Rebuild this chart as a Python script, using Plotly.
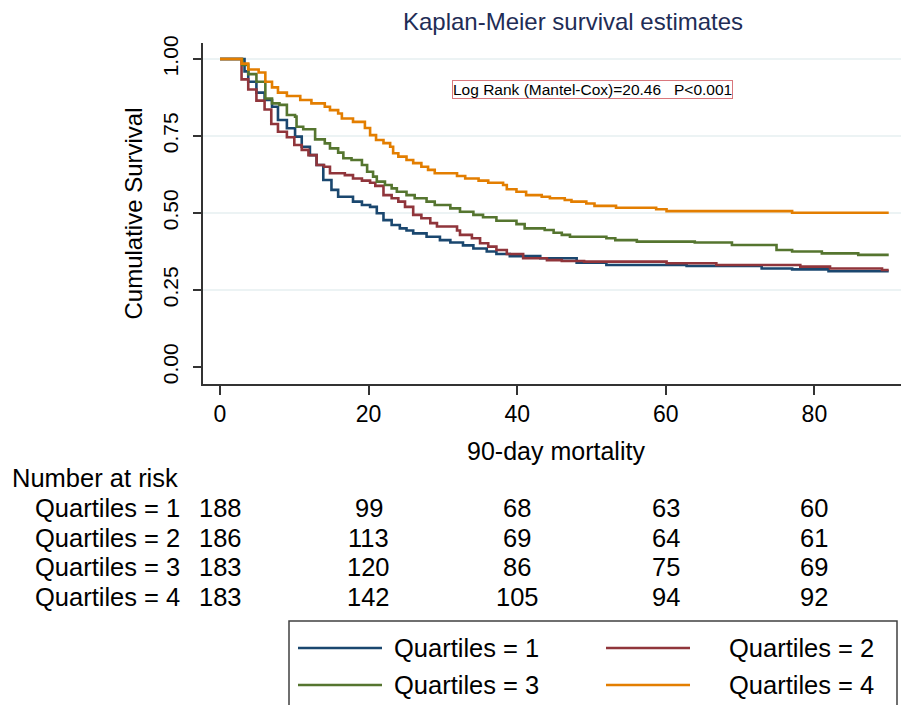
import plotly.graph_objects as go

# ---------------- data ----------------
q1_t = [0, 3.3, 3.8, 4.9, 6.0, 7.0, 7.8, 9.0, 10.1, 11.0, 12.1, 13.0, 13.9, 15.0, 15.9, 17.9, 19.1, 20.2,
        21.1, 22.0, 23.1, 24.2, 25.1, 26.0, 27.8, 29.6, 31.0, 32.7, 34.1, 35.9, 37.2, 39.0, 43.1, 48.0,
        52.0, 62.8, 72.9, 77.0, 81.9, 90]
q1_s = [1.0, 0.960, 0.926, 0.891, 0.867, 0.845, 0.802, 0.775, 0.748, 0.715, 0.688, 0.656, 0.607, 0.575,
        0.553, 0.537, 0.526, 0.520, 0.499, 0.477, 0.461, 0.450, 0.443, 0.434, 0.423, 0.412, 0.404, 0.395,
        0.385, 0.375, 0.367, 0.360, 0.353, 0.339, 0.331, 0.328, 0.320, 0.317, 0.311, 0.311]

q2_t = [0, 2.9, 3.8, 4.9, 6.0, 6.9, 7.8, 9.0, 10.0, 11.0, 11.9, 13.0, 14.0, 14.8, 16.8, 17.9, 19.1, 20.2,
        20.9, 22.0, 23.1, 24.0, 24.9, 26.0, 27.1, 28.3, 29.2, 31.9, 32.3, 33.9, 35.0, 36.1, 37.2, 38.6,
        40.8, 44.0, 46.0, 49.0, 60.1, 66.8, 78.1, 82.1, 89.1, 90]
q2_s = [1.0, 0.934, 0.901, 0.865, 0.836, 0.789, 0.764, 0.746, 0.721, 0.705, 0.688, 0.656, 0.650, 0.629,
        0.623, 0.612, 0.605, 0.598, 0.588, 0.558, 0.548, 0.537, 0.520, 0.494, 0.483, 0.467, 0.456, 0.443,
        0.429, 0.418, 0.402, 0.391, 0.380, 0.367, 0.353, 0.347, 0.344, 0.342, 0.337, 0.331, 0.326, 0.320,
        0.315, 0.315]

q3_t = [0, 3.0, 3.8, 4.9, 6.1, 7.0, 8.0, 9.0, 10.1, 10.3, 11.2, 12.8, 14.1, 14.8, 15.9, 16.6, 17.7, 19.1,
        19.8, 20.6, 21.1, 22.2, 23.1, 23.8, 25.1, 26.2, 27.8, 28.9, 31.0, 32.3, 34.1, 35.4, 37.2, 39.9,
        41.0, 43.7, 44.9, 46.0, 47.1, 52.0, 53.2, 56.1, 63.9, 68.9, 74.9, 77.0, 81.0, 85.9, 90]
q3_s = [1.0, 0.981, 0.951, 0.926, 0.872, 0.856, 0.851, 0.818, 0.813, 0.780, 0.772, 0.739, 0.726, 0.710,
        0.696, 0.678, 0.672, 0.656, 0.634, 0.618, 0.602, 0.591, 0.580, 0.569, 0.558, 0.548, 0.537, 0.526,
        0.515, 0.504, 0.494, 0.486, 0.475, 0.464, 0.450, 0.445, 0.436, 0.429, 0.423, 0.418, 0.412, 0.407,
        0.404, 0.396, 0.380, 0.375, 0.369, 0.364, 0.364]

q4_t = [0, 2.9, 3.8, 5.2, 6.1, 7.0, 7.8, 9.0, 10.8, 12.3, 14.1, 14.8, 15.9, 16.4, 17.9, 19.5, 20.2, 21.0,
        22.0, 22.9, 23.3, 24.0, 25.1, 26.0, 27.1, 28.0, 28.9, 31.9, 33.0, 34.8, 36.1, 38.1, 38.6, 39.9,
        41.2, 43.3, 44.4, 46.4, 47.3, 49.3, 50.4, 53.3, 58.7, 60.1, 77.0, 90]
q4_s = [1.0, 0.985, 0.966, 0.956, 0.926, 0.908, 0.891, 0.880, 0.867, 0.856, 0.845, 0.834, 0.823, 0.807,
        0.796, 0.776, 0.753, 0.737, 0.727, 0.715, 0.694, 0.683, 0.672, 0.662, 0.650, 0.640, 0.629, 0.620,
        0.612, 0.605, 0.598, 0.591, 0.577, 0.569, 0.558, 0.553, 0.548, 0.542, 0.537, 0.531, 0.523, 0.517,
        0.512, 0.506, 0.501, 0.501]

series_names = ["Quartiles = 1", "Quartiles = 2", "Quartiles = 3", "Quartiles = 4"]
series_colors = ["#1a476f", "#90353b", "#55752f", "#e37e00"]

risk_times = [0, 20, 40, 60, 80]
risk_q1 = [188, 99, 68, 63, 60]
risk_q2 = [186, 113, 69, 64, 61]
risk_q3 = [183, 120, 86, 75, 69]
risk_q4 = [183, 142, 105, 94, 92]

x_ticks = [0, 20, 40, 60, 80]
y_ticks = [0, 0.25, 0.5, 0.75, 1.0]
y_ticklabels = ["0.00", "0.25", "0.50", "0.75", "1.00"]

title_text = "Kaplan-Meier survival estimates"
stat_text = "Log Rank (Mantel-Cox)=20.46   P<0.001"

# ---------------- layout geometry (pixels) ----------------
OFF = 8  # default page margin of the HTML body
W, H = 909 - OFF, 705 - OFF
L, T = 203 - OFF, 43 - OFF
PLOT_BOTTOM = 384 - OFF
R = 0
B = H - PLOT_BOTTOM
PW, PH = W - L - R, H - T - B
FONT = "Arial, Liberation Sans, Helvetica, sans-serif"


def px(xp):
    """reference pixel x -> paper coordinate"""
    return (xp - OFF - L) / PW


def py(yp):
    """reference pixel y -> paper coordinate"""
    return (PLOT_BOTTOM - (yp - OFF)) / PH


fig = go.Figure()
curves = [(q1_t, q1_s), (q2_t, q2_s), (q3_t, q3_s), (q4_t, q4_s)]
for (t, s), name, col in zip(curves, series_names, series_colors):
    fig.add_trace(go.Scatter(x=t, y=s, mode="lines", line=dict(color=col, width=2.6, shape="hv"),
                             name=name, showlegend=False))

shapes = []
# horizontal grid lines (not at 0)
for v in y_ticks[1:]:
    shapes.append(dict(type="line", xref="paper", yref="y", x0=0, x1=1, y0=v, y1=v,
                       line=dict(color="#e6eff1", width=1.5), layer="below"))

annotations = []
# log rank box
annotations.append(dict(text=stat_text, xref="paper", yref="paper", x=px(592), y=py(89.5),
                        xanchor="center", yanchor="middle", showarrow=False,
                        font=dict(family=FONT, size=15.5, color="#000"),
                        bordercolor="#d9777d", borderwidth=1, borderpad=0, bgcolor="white"))

# number at risk table
annotations.append(dict(text="Number at risk", xref="paper", yref="paper", x=px(10), y=py(478),
                        xanchor="left", yanchor="middle", showarrow=False,
                        font=dict(family=FONT, size=25.5, color="#000")))
row_y = [508, 538, 567, 597]
for name, vals, yy in zip(series_names, [risk_q1, risk_q2, risk_q3, risk_q4], row_y):
    annotations.append(dict(text=name, xref="paper", yref="paper", x=px(33), y=py(yy),
                            xanchor="left", yanchor="middle", showarrow=False,
                            font=dict(family=FONT, size=25.5, color="#000")))
    for tt, v in zip(risk_times, vals):
        annotations.append(dict(text=str(v), xref="x", yref="paper", x=tt, y=py(yy),
                                xanchor="center", yanchor="middle", showarrow=False,
                                font=dict(family=FONT, size=25.5, color="#000")))

# custom legend
shapes.append(dict(type="rect", xref="paper", yref="paper", x0=px(289), x1=px(897), y0=py(621), y1=py(740),
                   line=dict(color="#404040", width=1.5), fillcolor="rgba(0,0,0,0)"))
leg_pos = [(298, 382, 392, 648), (606, 690, 727, 648), (298, 382, 392, 685), (606, 690, 727, 685)]
for (x0, x1, xt, yy), name, col in zip(leg_pos, series_names, series_colors):
    shapes.append(dict(type="line", xref="paper", yref="paper", x0=px(x0), x1=px(x1), y0=py(yy), y1=py(yy),
                       line=dict(color=col, width=2.5)))
    annotations.append(dict(text=name, xref="paper", yref="paper", x=px(xt), y=py(yy),
                            xanchor="left", yanchor="middle", showarrow=False,
                            font=dict(family=FONT, size=25.5, color="#000")))

fig.update_layout(
    width=W, height=H,
    margin=dict(l=L, r=R, t=T, b=B, pad=0),
    paper_bgcolor="white", plot_bgcolor="white",
    font=dict(family=FONT, color="#000"),
    title=dict(text=title_text, x=(573 - OFF) / W, xref="container", xanchor="center",
               y=1 - (22 - OFF) / H, yref="container", yanchor="middle",
               font=dict(family=FONT, size=24, color="#1f2d56")),
    shapes=shapes, annotations=annotations, showlegend=False,
)
fig.update_xaxes(range=[-2.29, 92.73], tickvals=x_ticks, ticks="outside", ticklen=9, tickwidth=1.5,
                 tickcolor="#333", showline=True, linecolor="#333", linewidth=1.5, showgrid=False,
                 zeroline=False, tickfont=dict(family=FONT, size=23, color="#000"),
                 title=dict(text="90-day mortality", font=dict(family=FONT, size=25, color="#000"), standoff=16))
fig.update_yaxes(range=[-0.0552, 1.052], tickvals=y_ticks, ticktext=y_ticklabels, tickangle=-90,
                 ticks="outside", ticklen=8, tickwidth=1.5, tickcolor="#333", showline=True,
                 linecolor="#333", linewidth=1.5, showgrid=False, zeroline=False, ticklabelstandoff=7,
                 tickfont=dict(family=FONT, size=21, color="#000"),
                 title=dict(text="Cumulative Survival", font=dict(family=FONT, size=24, color="#000"), standoff=9))

fig.write_html("out.html")
